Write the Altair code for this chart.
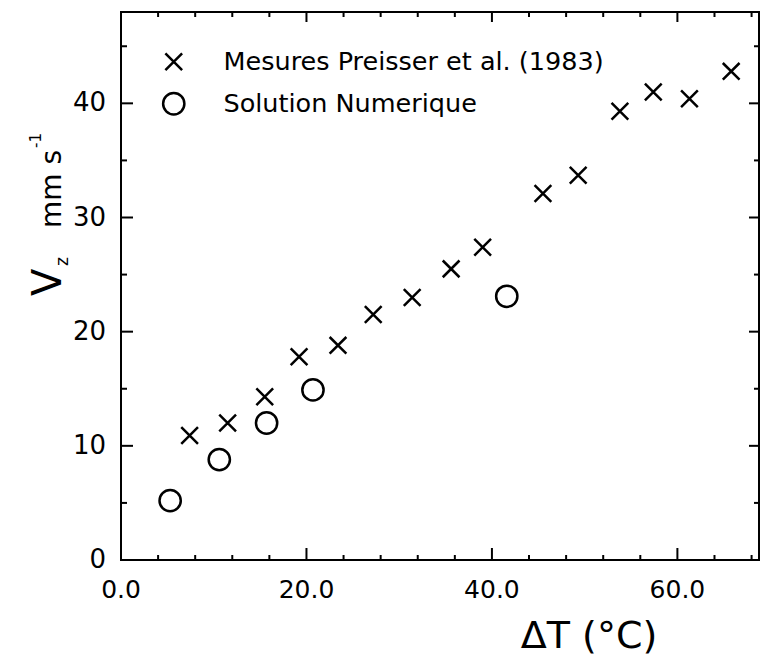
import altair as alt
import pandas as pd

# ---- data ----
series_names = ["Mesures Preisser et al. (1983)", "Solution Numerique"]

meas_x = [7.4, 11.5, 15.5, 19.2, 23.4, 27.2, 31.4, 35.6, 39.0, 45.5, 49.3, 53.8, 57.4, 61.3, 65.8]
meas_y = [10.9, 12.0, 14.3, 17.8, 18.8, 21.5, 23.0, 25.5, 27.4, 32.1, 33.7, 39.3, 41.0, 40.4, 42.8]

num_x = [5.3, 10.6, 15.7, 20.7, 41.6]
num_y = [5.2, 8.8, 12.0, 14.9, 23.1]

x_major = [0, 20, 40, 60]
x_minor = [4, 8, 12, 16, 24, 28, 32, 36, 44, 48, 52, 56, 64, 68]
y_major = [0, 10, 20, 30, 40]
y_minor = [5, 15, 25, 35, 45]

x_title = "ΔT (°C)"
y_title_main = "V"
y_title_sub = "z"
y_title_unit = "mm s"
y_title_sup = "-1"

df = pd.DataFrame({
    "dT": meas_x + num_x,
    "Vz": meas_y + num_y,
    "series": [series_names[0]] * len(meas_x) + [series_names[1]] * len(num_x),
})

FONT = "DejaVu Sans"
W, H = 638, 548
XDOM = [0, 68.8]
YDOM = [0, 48]
xs = alt.Scale(domain=XDOM, nice=False, zero=False)
ys = alt.Scale(domain=YDOM, nice=False, zero=False)

CROSS = "M-1,-1L1,1M-1,1L1,-1"

legend = alt.Legend(
    title=None, orient="none", legendX=40, legendY=37,
    labelFont=FONT, labelFontSize=25.5, labelColor="black", labelLimit=0,
    labelOffset=37, rowPadding=12, symbolStrokeWidth=2.5,
    symbolStrokeColor="black", symbolFillColor="transparent",
)

points = alt.Chart(df).mark_point(filled=False, color="black", strokeWidth=2.5, opacity=1).encode(
    x=alt.X("dT:Q", scale=xs, axis=None),
    y=alt.Y("Vz:Q", scale=ys, axis=None),
    shape=alt.Shape("series:N", scale=alt.Scale(domain=series_names, range=[CROSS, "circle"]), legend=legend),
    size=alt.Size("series:N", scale=alt.Scale(domain=series_names, range=[280, 452]), legend=legend),
)


# inward ticks on all four sides, placed through the chart's scales
def xticks(values, y0, y1, tag):
    return alt.Chart(pd.DataFrame({"tx" + tag: values})).mark_rule(color="black", strokeWidth=2).encode(
        x=alt.X("tx" + tag + ":Q", scale=xs, axis=None), y=alt.value(y0), y2=alt.value(y1)
    )


def yticks(values, x0, x1, tag):
    return alt.Chart(pd.DataFrame({"ty" + tag: values})).mark_rule(color="black", strokeWidth=2).encode(
        y=alt.Y("ty" + tag + ":Q", scale=ys, axis=None), x=alt.value(x0), x2=alt.value(x1)
    )


tick_layers = [
    xticks(x_major[1:], H, H - 12, "a"),
    xticks(x_minor, H, H - 5, "b"),
    xticks(x_major[1:], 0, 10, "c"),
    xticks(x_minor, 0, 5, "d"),
    yticks(y_major[1:], 0, 12, "a"),
    yticks(y_minor, 0, 6, "b"),
    yticks(y_major[1:], W, W - 10, "c"),
    yticks(y_minor, W, W - 5, "d"),
]

# tick labels, placed through the same scales
x_labels = alt.Chart(pd.DataFrame({"xl": x_major})).mark_text(
    font=FONT, fontSize=25, color="black", align="center", baseline="top"
).encode(
    x=alt.X("xl:Q", scale=xs, axis=None), y=alt.value(H + 18),
    text=alt.Text("xl:Q", format=".1f"),
)
y_labels = alt.Chart(pd.DataFrame({"yl": y_major})).mark_text(
    font=FONT, fontSize=26, color="black", align="right", baseline="middle"
).encode(
    y=alt.Y("yl:Q", scale=ys, axis=None), x=alt.value(-15),
    text=alt.Text("yl:Q", format="d"),
)
x_title_layer = alt.Chart(pd.DataFrame({"t": [x_title]})).mark_text(
    font=FONT, fontSize=38, color="black", align="center", baseline="middle"
).encode(text="t:N", x=alt.value(468), y=alt.value(H + 77))


# y-axis title built from pieces (subscript / superscript)
def ytxt(text, x, y, size):
    return alt.Chart(pd.DataFrame({"t": [text]})).mark_text(
        angle=270, align="left", baseline="alphabetic", font=FONT,
        fontSize=size, color="black",
    ).encode(text="t:N", x=alt.value(x), y=alt.value(y))


title_layers = [
    ytxt(y_title_main, -60, 284, 40),
    ytxt(y_title_sub, -53, 254, 17),
    ytxt(y_title_unit, -60, 216, 28),
    ytxt(y_title_sup, -80, 136, 15),
]

chart = alt.layer(
    x_labels, y_labels, x_title_layer, *title_layers, points, *tick_layers
).properties(
    width=W, height=H,
    padding={"left": 121, "top": 12, "right": 1, "bottom": 103},
    autosize=alt.AutoSizeParams(type="none"),
    background="white",
).configure_view(stroke="black", strokeWidth=2)

chart.save("out.html", embed_options={"renderer": "svg", "actions": False})
